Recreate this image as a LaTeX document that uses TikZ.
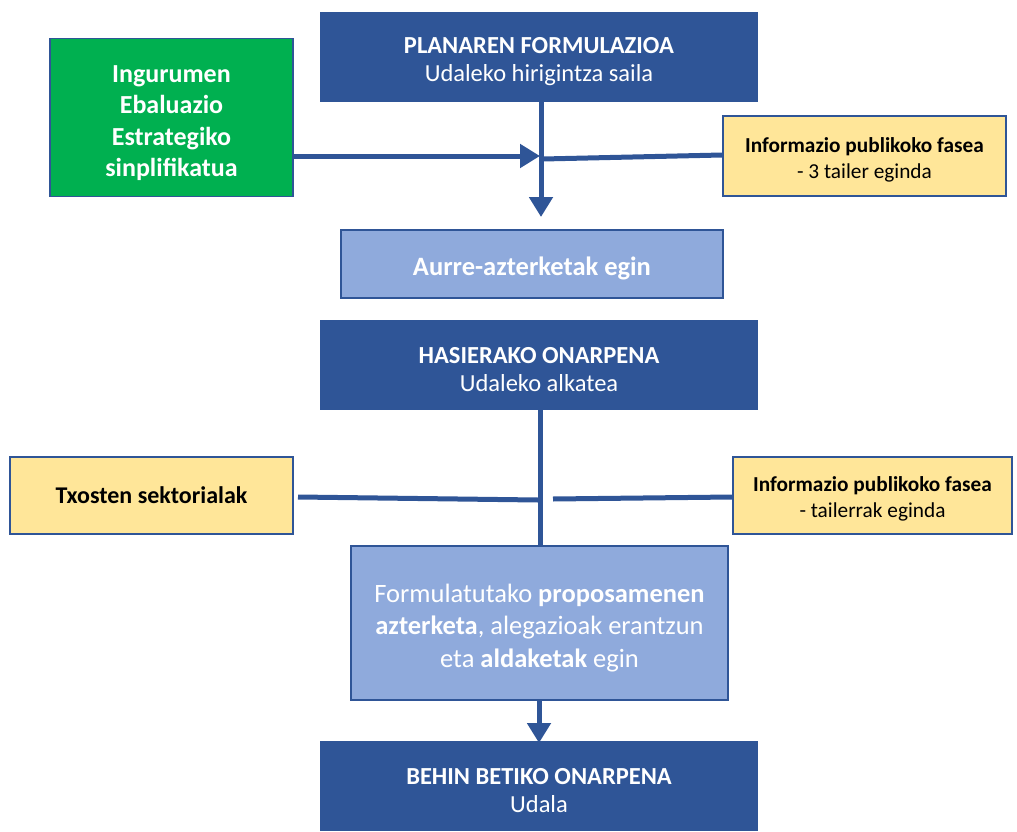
\documentclass[tikz,border=0pt]{standalone}
\usepackage{fontspec}
\setmainfont{Carlito}
\usetikzlibrary{arrows.meta}
\definecolor{dblue}{HTML}{2F5597}
\definecolor{lblue}{HTML}{8FAADC}
\definecolor{egreen}{HTML}{00B050}
\definecolor{eyellow}{HTML}{FFE699}
\newcommand\topgap[1]{\rule{0pt}{#1}}
\tikzset{
  darkbox/.style={draw=dblue,fill=dblue,line width=1.5pt,text=white,align=center,inner sep=0pt,font=\fontsize{24.5}{28.5}\selectfont},
  lightbox/.style={draw=dblue,fill=lblue,line width=1.5pt,text=white,align=center,inner sep=0pt,font=\fontsize{26.5}{32.5}\selectfont},
  greenbox/.style={draw=dblue,fill=egreen,line width=1.5pt,text=white,align=center,inner sep=0pt,font=\bfseries\fontsize{26}{31.5}\selectfont},
  yellowbox/.style={draw=dblue,fill=eyellow,line width=1.5pt,text=black,align=center,inner sep=0pt,font=\fontsize{21.3}{26}\selectfont},
  conn/.style={draw=dblue,line width=5pt},
  arr/.style={conn,-{Triangle[length=20pt,width=23pt]}}
}
\begin{document}
\begin{tikzpicture}[x=1pt,y=-1pt]
\useasboundingbox (0,0) rectangle (1017,832);
% boxes
\node[darkbox,minimum width=437pt,minimum height=89pt] (plan) at (539,57) {\topgap{25pt}\textbf{PLANAREN FORMULAZIOA}\\Udaleko hirigintza saila};
\node[greenbox,minimum width=243pt,minimum height=158pt] (green) at (171.5,117.5) {\topgap{28pt}Ingurumen\\Ebaluazio\\Estrategiko\\sinplifikatua};
\node[yellowbox,minimum width=283pt,minimum height=80pt] (info1) at (864.5,156) {\topgap{22pt}\textbf{Informazio publikoko fasea}\\- 3 tailer eginda};
\node[lightbox,minimum width=382pt,minimum height=68pt] (aurre) at (532,264) {\topgap{27pt}\textbf{Aurre-azterketak egin}};
\node[darkbox,minimum width=437pt,minimum height=89pt] (hasi) at (539,365) {\topgap{25pt}\textbf{HASIERAKO ONARPENA}\\Udaleko alkatea};
\node[yellowbox,minimum width=283pt,minimum height=77pt,font=\bfseries\fontsize{24}{28}\selectfont] (txosten) at (151.5,495.5) {Txosten sektorialak};
\node[yellowbox,minimum width=279pt,minimum height=77pt] (info2) at (872.5,495.5) {\topgap{22pt}\textbf{Informazio publikoko fasea}\\- tailerrak eginda};
\node[lightbox,minimum width=377pt,minimum height=154pt] (form) at (539.5,623) {\topgap{28pt}Formulatutako \textbf{proposamenen}\\\textbf{azterketa}, alegazioak erantzun\\eta \textbf{aldaketak} egin};
\node[darkbox,minimum width=437pt,minimum height=88pt] (behin) at (539,786) {\topgap{25pt}\textbf{BEHIN BETIKO ONARPENA}\\Udala};
% connectors top
\coordinate (tip1) at (541,217);
\coordinate (j1) at (540,156);
\coordinate (j1r) at (543,159);
\draw[arr] (plan.south -| tip1) -- (tip1);
\draw[arr] (green.east |- j1) -- (j1);
\draw[conn] (info1.west |- 0,155) -- (j1r);
% connectors middle
\coordinate (j2l) at (538,500);
\coordinate (j2r) at (553,499);
\draw[conn] (hasi.south -| 540,0) -- (form.north -| 540,0);
\draw[conn] (298,497) -- (j2l);
\draw[conn] (j2r) -- (info2.west |- 0,497);
% bottom
\draw[arr] (form.south -| 539,0) -- (539,743);
\end{tikzpicture}
\end{document}
